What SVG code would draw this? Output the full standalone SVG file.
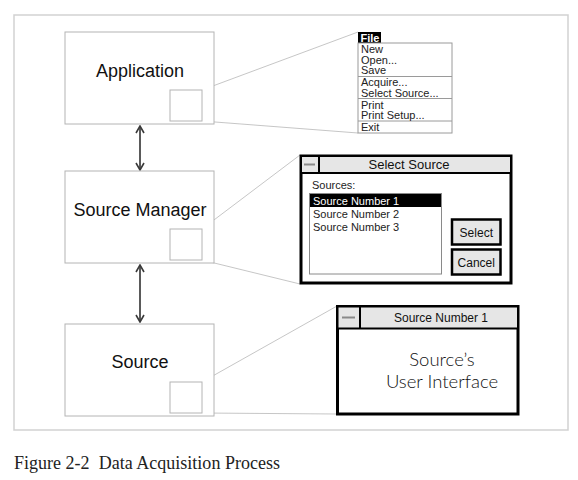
<svg xmlns="http://www.w3.org/2000/svg" width="578" height="480" viewBox="0 0 578 480">
  <defs>
    <marker id="head" viewBox="0 0 10 10" refX="9" refY="5" markerWidth="10" markerHeight="10" markerUnits="userSpaceOnUse" orient="auto-start-reverse">
      <path d="M2,1 L9,5 L2,9" fill="none" stroke="#3a3a3a" stroke-width="1.6"/>
    </marker>
    <style>
      .frame { fill: #ffffff; stroke: #d2d2d2; stroke-width: 1.5; }
      .box { fill: #ffffff; stroke: #b4b4b4; stroke-width: 1; }
      .zoom { fill: none; stroke: #b4b4b4; stroke-width: 1; }
      .link { fill: none; stroke: #b8b8b8; stroke-width: 0.8; }
      .arrow { fill: none; stroke: #5a5a5a; stroke-width: 2; marker-start: url(#head); marker-end: url(#head); }
      .label { font-family: "Liberation Sans", Arial, sans-serif; font-size: 18px; fill: #111; text-anchor: middle; }
      .ui { font-family: "Liberation Sans", Arial, sans-serif; font-size: 11px; fill: #222; }
      .hand { font-family: Lato, "DejaVu Sans", sans-serif; font-weight: 300; font-size: 18.5px; fill: #111; text-anchor: middle; }
      .win { fill: #ffffff; stroke: #000; stroke-width: 3; }
      .bar { fill: #e6e6e6; stroke: #000; stroke-width: 2; }
      .btn { fill: #e6e6e6; stroke: #000; stroke-width: 2.5; }
      .dash { stroke: #8a8a8a; stroke-width: 2; }
      .caption { font-family: "Liberation Serif", "Times New Roman", serif; font-size: 18px; fill: #222; }
    </style>
  </defs>

  <!-- outer figure frame -->
  <rect class="frame" x="14" y="15" width="554" height="415"/>

  <!-- connectors: arrows and zoom lines -->
  <g id="connectors">
    <line class="arrow" x1="140" y1="126" x2="140" y2="170"/>
    <line class="arrow" x1="140" y1="265" x2="140" y2="322"/>
    <line class="link" x1="202" y1="90" x2="358" y2="32"/>
    <line class="link" x1="202" y1="121" x2="358" y2="133"/>
    <line class="link" x1="202" y1="229" x2="300" y2="155"/>
    <line class="link" x1="202" y1="260" x2="300" y2="284"/>
    <line class="link" x1="202" y1="382" x2="337" y2="306"/>
    <line class="link" x1="202" y1="413" x2="337" y2="414"/>
  </g>

  <!-- Application node -->
  <g id="application">
    <rect class="box" x="65" y="32" width="149" height="92"/>
    <text class="label" x="140" y="77">Application</text>
    <rect class="zoom" x="170" y="90" width="32" height="31"/>
  </g>

  <!-- Source Manager node -->
  <g id="source-manager">
    <rect class="box" x="65" y="171" width="149" height="92"/>
    <text class="label" x="140" y="216">Source Manager</text>
    <rect class="zoom" x="170" y="229" width="32" height="31"/>
  </g>

  <!-- Source node -->
  <g id="source">
    <rect class="box" x="65" y="324" width="149" height="92"/>
    <text class="label" x="140" y="368">Source</text>
    <rect class="zoom" x="170" y="382" width="32" height="31"/>
  </g>

  <!-- File menu -->
  <g id="file-menu">
    <rect x="358" y="32" width="23" height="11" fill="#000"/>
    <text class="ui" x="360.5" y="41.5" style="fill:#fff;font-weight:bold">File</text>
    <rect x="358" y="43" width="94" height="90" fill="#fff" stroke="#9a9a9a" stroke-width="1"/>
    <line x1="358" y1="76.5" x2="452" y2="76.5" stroke="#9a9a9a"/>
    <line x1="358" y1="98.5" x2="452" y2="98.5" stroke="#9a9a9a"/>
    <line x1="358" y1="121" x2="452" y2="121" stroke="#9a9a9a"/>
    <text class="ui" x="361" y="53">New</text>
    <text class="ui" x="361" y="63.5">Open...</text>
    <text class="ui" x="361" y="74">Save</text>
    <text class="ui" x="361" y="86">Acquire...</text>
    <text class="ui" x="361" y="96.5">Select Source...</text>
    <text class="ui" x="361" y="108.5">Print</text>
    <text class="ui" x="361" y="119">Print Setup...</text>
    <text class="ui" x="361" y="131">Exit</text>
  </g>

  <!-- Select Source dialog -->
  <g id="select-source">
    <rect class="win" x="301" y="156" width="210" height="127"/>
    <rect class="bar" x="301" y="156" width="210" height="17"/>
    <line x1="319" y1="156" x2="319" y2="173" stroke="#000" stroke-width="2"/>
    <line class="dash" x1="304" y1="164.5" x2="315" y2="164.5"/>
    <text class="ui" x="409" y="169" text-anchor="middle" style="font-size:13px;fill:#111">Select Source</text>
    <text class="ui" x="312" y="189">Sources:</text>
    <rect x="309.5" y="193.5" width="132" height="80.5" fill="#fff" stroke="#8a8a8a" stroke-width="1"/>
    <rect x="310" y="194" width="131" height="13" fill="#000"/>
    <text class="ui" x="313" y="204.5" style="fill:#fff">Source Number 1</text>
    <text class="ui" x="313" y="217.5">Source Number 2</text>
    <text class="ui" x="313" y="231">Source Number 3</text>
    <rect class="btn" x="452" y="219.5" width="48.5" height="25"/>
    <text class="ui" x="476.3" y="236.5" text-anchor="middle" style="font-size:12px;fill:#111">Select</text>
    <rect class="btn" x="452" y="249.5" width="48.5" height="25"/>
    <text class="ui" x="476.3" y="266.5" text-anchor="middle" style="font-size:12px;fill:#111">Cancel</text>
  </g>

  <!-- Source user interface window -->
  <g id="source-ui">
    <rect class="win" x="337.5" y="306.5" width="180.5" height="107.5"/>
    <rect class="bar" x="337.5" y="306.5" width="180.5" height="22"/>
    <line x1="360" y1="306.5" x2="360" y2="328.5" stroke="#000" stroke-width="2"/>
    <line class="dash" x1="342" y1="317.5" x2="355" y2="317.5"/>
    <text class="ui" x="441" y="322" text-anchor="middle" style="font-size:12px;fill:#111">Source Number 1</text>
    <text class="hand" x="442" y="366">Source’s</text>
    <text class="hand" x="442" y="388">User Interface</text>
  </g>

  <!-- figure caption -->
  <text class="caption" x="14" y="469" xml:space="preserve" textLength="266" lengthAdjust="spacing">Figure 2-2  Data Acquisition Process</text>
</svg>
